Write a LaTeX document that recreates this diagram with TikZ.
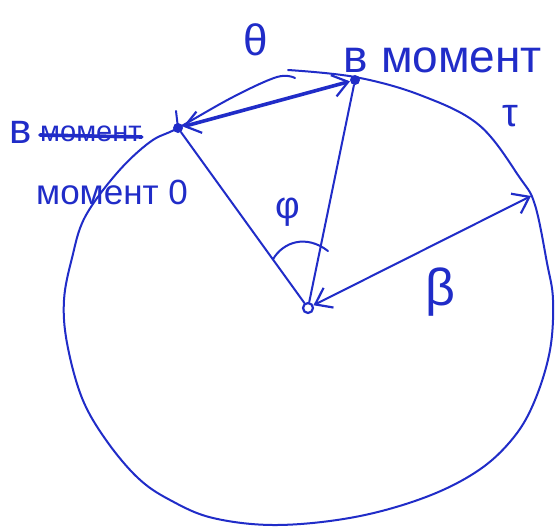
\documentclass[tikz,border=0pt]{standalone}
\usepackage{fontspec}
\setmainfont{Liberation Sans}
\usetikzlibrary{arrows.meta,calc}
\definecolor{ink}{RGB}{32,44,200}
\tikzset{
  pen/.style={draw=ink, line width=2pt, line cap=round, line join=round},
  thickpen/.style={pen, line width=3.6pt},
  barb/.tip={Straight Barb[length=15pt,width=22pt,line width=2.2pt]},
  lbl/.style={text=ink, inner sep=0pt},
  dotnode/.style={circle, fill=ink, inner sep=0pt, minimum size=10pt},
  odotnode/.style={circle, draw=ink, line width=2.2pt, inner sep=0pt, minimum size=10pt},
}
\begin{document}
\begin{tikzpicture}[x=1pt,y=-1pt]
\useasboundingbox (0,0) rectangle (556,527);
\fill[white] (0,0) rectangle (556,527);
% circle (hand drawn)
\draw[pen] plot[smooth, tension=0.6] coordinates {
 (288,70) (355,77) (420,95) (479,125) (520,178) (535,205) (547,263) (553,300)
 (550,350) (535,400) (514,437) (479,470) (426,497) (355,517) (277,525) (213,518)
 (170,500) (138,478) (106,440) (82,398) (67,343) (64,300) (72,258) (85,217)
 (117,173) (150,142) (178,128) (233,97) (277,77) (295,78)};
% points
\node[dotnode] (p0) at (178,128) {};
\node[dotnode] (pt) at (355,80) {};
\node[odotnode] (o) at (308,308) {};
\coordinate (r) at (531,196);
\draw[pen] (p0.center) -- ++(-2,-17);
% chord
\draw[thickpen, {barb}-{barb}] (p0) -- (pt);
% radii
\draw[pen] (p0) -- (o);
\draw[pen] (pt) -- (o);
\draw[pen, {barb}-{barb}] (o) -- (r);
% angle arc
\coordinate (a1) at ($(p0)!0.73!(o)$);
\coordinate (a2) at (328,251);
\draw[pen] (a1) .. controls (283,242) and (306,234) .. (a2);
% labels
\node[lbl, font=\fontsize{46}{50}\selectfont] (lt) at (443,60) {в момент};
\node[lbl, font=\fontsize{40}{44}\selectfont] (tau) at (510,116) {τ};
\node[lbl, font=\fontsize{42}{46}\selectfont, anchor=west] (l1a) at (9,132) {в};
\node[lbl, font=\fontsize{29}{32}\selectfont, anchor=west] (l1b) at (40,134) {момент};
\draw[thickpen] ([yshift=-1pt]l1b.west) -- ([yshift=-3pt]l1b.east);
\node[lbl, font=\fontsize{35}{40}\selectfont] (l2) at (112,192) {момент 0};
\node[lbl, font=\fontsize{44}{48}\selectfont] (th) at (256,40) {θ};
\node[lbl, font=\fontsize{38}{42}\selectfont] (phi) at (288,212) {φ};
\node[lbl, font=\fontsize{52}{56}\selectfont] (be) at (440,292) {β};
\end{tikzpicture}
\end{document}
